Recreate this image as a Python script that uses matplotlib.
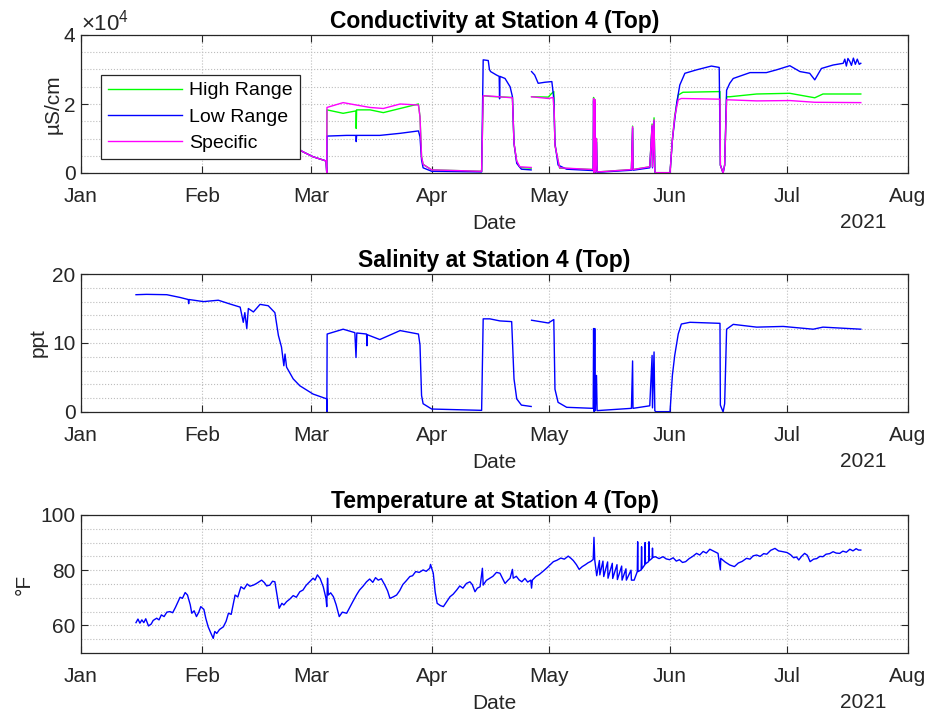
import numpy as np
import pandas as pd
import matplotlib
matplotlib.use("Agg")
import matplotlib.pyplot as plt
import matplotlib.dates as mdates
from matplotlib.ticker import MultipleLocator, FuncFormatter

plt.rcParams['font.family'] = ['Liberation Sans', 'DejaVu Sans']
plt.rcParams['mathtext.fontset'] = 'custom'
plt.rcParams['mathtext.rm'] = 'Liberation Sans'

START = pd.Timestamp('2021-01-01')

# ---- conductivity (uS/cm), days since Jan 1 ----
hi_days = [52.0, 54.4, 56.8, 59.5, 62.8, 63.0, 63.05, 67.2, 70.5, 70.55, 70.65, 74.1, 77.5, 81.8,
           86.5, 86.9, 87.3, 87.7, 89.9, 102.7, 103.1, 104.8, 110.6, 111.0, 111.7, 112.5, 115.4,
           115.45, 115.5, 119.8, 120.5, 121.2, 121.5, 122.7, 131.3, 131.4, 131.55, 131.7, 131.85,
           132.15, 132.3, 141.1, 141.4, 141.5, 145.8, 146.4, 146.5, 146.9, 147.1, 147.3, 151.0,
           151.6, 152.2, 153.1, 154.3, 163.8, 163.9, 164.6, 165.0, 165.5, 166.3, 173.2, 181.7,
           188.1, 190.2, 199.9]
hi_vals = [11.0e3, 8.0e3, 6.2e3, 4.7e3, 3.5e3, 0, 18.3e3, 17.3e3, 18.0e3, 12.9e3, 18.3e3, 18.3e3, 17.5e3, 18.7e3,
           20.0e3, 16.3e3, 4.7e3, 2.5e3, 0.9e3, 0.5e3, 22.4e3, 22.2e3, 21.9e3, 8.6e3, 3.2e3, 1.6e3, 1.4e3,
           np.nan, 22.1e3, 22.0e3, 22.9e3, 23.6e3, 8.0e3, 1.4e3, 1.0e3, 21.9e3, 0.1e3, 21.3e3, 0.3e3,
           10.0e3, 0.3e3, 1.0e3, 13.6e3, 1.0e3, 1.8e3, 14.2e3, 1.8e3, 16.0e3, 0.5e3, 0.1e3, 0.1e3,
           9.6e3, 16.6e3, 22.6e3, 23.4e3, 23.6e3, 2.3e3, 0, 2.3e3, 22.1e3, 22.1e3, 22.9e3, 23.1e3,
           21.8e3, 22.9e3, 22.9e3]

lo_days = [52.0, 54.4, 56.8, 59.5, 62.8, 63.0, 63.05, 68.1, 70.5, 70.55, 70.65, 76.6, 81.8, 86.5,
           86.9, 87.3, 87.7, 89.9, 102.7, 103.1, 104.4, 104.7, 105.0, 106.5, 107.2, 107.3, 107.4,
           108.7, 110.0, 110.6, 111.0, 111.7, 112.9, 115.4, 115.45, 115.5, 116.3, 117.2, 118.9,
           120.7, 121.2, 121.5, 122.3, 124.5, 131.3, 131.4, 131.55, 131.7, 131.85, 132.15, 132.3,
           141.1, 141.4, 141.5, 145.8, 146.4, 146.5, 146.9, 147.1, 147.3, 151.0, 151.6, 152.7,
           153.5, 154.8, 157.8, 161.6, 163.6, 163.9, 164.6, 165.0, 165.5, 166.3, 167.2, 171.5,
           175.7, 178.3, 181.7, 184.3, 186.8, 188.1, 189.8, 192.8, 195.4, 195.8, 196.2, 196.6,
           197.1, 197.5, 198.0, 198.5, 199.0, 199.5, 199.9]
lo_vals = [11.0e3, 8.0e3, 6.2e3, 4.7e3, 3.5e3, 0, 10.7e3, 10.9e3, 10.9e3, 9.1e3, 10.9e3, 10.9e3, 11.5e3, 12.2e3,
           10.5e3, 3.8e3, 1.5e3, 0.5e3, 0.3e3, 32.8e3, 32.6e3, 30.0e3, 29.4e3, 28.4e3, 28.0e3, 21.5e3, 28.0e3,
           27.4e3, 25.0e3, 22.1e3, 8.6e3, 2.8e3, 1.1e3, 0.9e3, np.nan, 29.4e3, 28.4e3, 26.0e3, 26.3e3,
           26.5e3, 21.6e3, 8.6e3, 2.3e3, 1.1e3, 0.7e3, 21.0e3, 0.1e3, 20.5e3, 0.2e3, 9.0e3, 0.2e3,
           0.8e3, 13.0e3, 0.8e3, 1.5e3, 13.5e3, 1.5e3, 15.0e3, 0.3e3, 0.05e3, 0.05e3, 9.6e3, 20.2e3,
           25.5e3, 28.9e3, 29.9e3, 31.0e3, 30.6e3, 2.3e3, 0, 2.3e3, 24.0e3, 26.0e3, 27.4e3, 29.1e3,
           29.1e3, 29.9e3, 31.1e3, 29.4e3, 28.9e3, 27.0e3, 30.3e3, 31.3e3, 31.8e3, 33.0e3, 31.0e3, 33.2e3,
           32.3e3, 31.2e3, 33.3e3, 31.5e3, 33.0e3, 31.5e3, 31.8e3]

sp_days = [52.0, 54.4, 56.8, 59.5, 62.8, 63.0, 63.05, 67.2, 70.6, 74.1, 77.5, 81.8, 86.5, 86.9,
           87.3, 87.7, 89.9, 102.7, 103.1, 104.8, 110.6, 111.0, 111.7, 112.5, 115.4, 115.45, 115.5,
           119.8, 121.0, 121.3, 121.5, 122.7, 131.3, 131.4, 131.55, 131.7, 131.85, 132.15, 132.3,
           141.1, 141.4, 141.5, 145.8, 146.4, 146.5, 146.9, 147.1, 147.3, 151.0, 151.6, 152.2,
           153.1, 153.9, 163.8, 163.9, 164.6, 165.0, 165.5, 166.3, 173.2, 181.7, 188.1, 199.9]
sp_vals = [11.0e3, 8.0e3, 6.2e3, 4.7e3, 3.5e3, 0, 19.0e3, 20.4e3, 19.7e3, 19.0e3, 18.7e3, 20.0e3, 19.7e3, 16.3e3,
           4.7e3, 2.5e3, 0.9e3, 0.5e3, 22.4e3, 22.3e3, 21.8e3, 8.6e3, 3.5e3, 1.8e3, 1.6e3, np.nan, 22.1e3,
           21.6e3, 21.9e3, 18.0e3, 8.0e3, 1.5e3, 1.0e3, 21.6e3, 0.1e3, 21.3e3, 0.3e3, 10.0e3, 0.3e3,
           1.0e3, 13.4e3, 1.0e3, 1.8e3, 13.9e3, 1.8e3, 15.4e3, 0.5e3, 0.1e3, 0.1e3, 9.6e3, 16.3e3,
           21.2e3, 21.6e3, 21.4e3, 2.3e3, 0, 2.3e3, 21.2e3, 21.2e3, 20.9e3, 21.0e3, 20.5e3, 20.4e3]

# ---- salinity (ppt) ----
sal_days = [14.1, 16.8, 22.0, 25.4, 27.5, 27.6, 27.7, 31.4, 35.2, 38.2, 40.8, 41.6, 42.0, 42.5,
            42.9, 44.2, 45.9, 48.0, 49.7, 50.6, 51.4, 52.0, 52.3, 52.7, 54.4, 56.1, 59.5, 63.0,
            63.02, 63.1, 67.2, 70.2, 70.5, 70.7, 73.2, 73.3, 73.4, 76.6, 81.8, 86.5, 86.9, 87.3,
            87.7, 89.9, 102.7, 103.1, 104.8, 107.4, 110.4, 111.0, 111.7, 112.9, 115.4, 115.45,
            115.5, 119.8, 121.2, 121.5, 122.3, 124.5, 131.3, 131.4, 131.55, 131.7, 131.85, 132.15,
            132.3, 141.1, 141.4, 141.5, 145.8, 146.4, 146.5, 146.9, 147.1, 147.3, 151.0, 151.6,
            152.2, 153.1, 153.9, 156.1, 163.8, 163.9, 164.6, 165.0, 165.5, 167.2, 173.2, 180.0,
            187.7, 190.2, 199.9]
sal_vals = [17.0, 17.05, 17.0, 16.6, 16.3, 15.7, 16.3, 16.0, 16.2, 15.65, 15.2, 13.0, 14.4, 12.1,
            15.0, 14.5, 15.6, 15.4, 14.4, 11.1, 9.4, 6.7, 8.4, 6.5, 4.8, 3.8, 2.6, 1.9,
            0.0, 11.3, 12.0, 11.5, 7.9, 11.45, 11.3, 9.6, 11.2, 10.5, 11.8, 11.3, 9.7, 2.4,
            1.2, 0.43, 0.24, 13.5, 13.5, 13.2, 13.1, 4.8, 1.9, 1.0, 0.8, np.nan,
            13.3, 12.9, 13.4, 3.3, 1.4, 0.68, 0.53, 12.1, 0.05, 12.1, 0.2, 5.3,
            0.2, 0.53, 7.4, 0.53, 0.9, 8.2, 0.6, 8.7, 0.2, 0.05, 0.05, 5.3,
            8.2, 11.3, 12.75, 13.0, 12.85, 1.0, 0.0, 1.2, 12.0, 12.7, 12.3, 12.4,
            12.0, 12.3, 12.0]

# ---- temperature (F) ----
tmp_days = [14.1, 14.6, 15.1, 15.6, 16.1, 16.6, 17.3, 18.0, 18.5, 19.4, 20.0, 20.6, 21.3, 22.0,
            22.8, 23.5, 24.2, 25.4, 26.0, 26.7, 27.3, 28.0, 28.4, 29.0, 29.6, 30.2, 30.7, 31.5,
            32.0, 32.6, 33.2, 33.9, 34.3, 34.8, 35.5, 36.5, 37.2, 37.8, 38.5, 39.5, 40.2, 41.0,
            41.8, 42.6, 43.3, 44.2, 45.0, 46.3, 47.0, 47.6, 48.4, 49.1, 49.7, 50.8, 51.5, 52.0,
            52.7, 53.5, 54.4, 55.2, 56.1, 56.9, 57.7, 58.6, 59.5, 60.0, 60.6, 61.3, 62.1, 62.8,
            63.0, 63.2, 63.4, 64.0, 64.7, 65.4, 66.2, 67.0, 68.1, 68.8, 69.6, 70.6, 71.4, 72.3,
            73.2, 74.0, 74.8, 75.5, 76.2, 77.0, 77.9, 78.6, 79.2, 80.0, 80.9, 81.7, 82.5, 83.4,
            84.3, 85.0, 85.8, 86.7, 87.7, 88.5, 89.4, 89.6, 90.3, 90.8, 91.3, 92.1, 92.9, 93.7,
            94.6, 95.4, 96.3, 97.1, 97.9, 98.8, 99.7, 100.3, 101.0, 101.6, 102.3, 102.9, 103.1,
            103.9, 104.8, 105.6, 106.5, 107.4, 108.0, 108.7, 109.4, 110.0, 110.6, 110.8, 111.6,
            112.3, 113.0, 113.8, 114.5, 115.3, 115.5, 115.7, 116.6, 117.5, 118.6, 119.4, 120.3,
            121.1, 122.0, 123.0, 123.9, 124.9, 125.6, 126.2, 127.0, 127.7, 128.5, 129.3, 130.0,
            130.7, 131.3, 131.5, 131.7,
            132.2, 132.9, 133.0, 133.8, 134.0, 135.0, 135.1, 136.2, 136.3, 137.4, 137.5, 138.6,
            138.7, 139.7, 139.8, 141.0, 141.1, 141.8,
            142.6, 142.7, 142.8, 143.6, 143.7, 143.8, 144.5, 144.6, 144.7, 145.5, 145.6, 145.7,
            146.4, 146.5, 146.6, 147.2, 148.2, 149.2, 150.0, 150.9, 151.8, 152.6, 153.4, 154.2,
            155.0, 155.9, 156.8, 157.8, 158.6, 159.5, 160.3, 161.2, 162.2, 163.3, 163.9, 164.0,
            165.1, 166.3, 167.5, 168.5, 169.5, 170.6, 171.5, 172.3, 173.2, 174.1, 175.0, 175.8,
            176.8, 177.9, 178.8, 179.6, 181.0, 181.9, 182.7, 183.4, 184.0, 184.7, 185.5, 186.2,
            186.9, 187.8, 188.6, 189.4, 190.2, 191.0, 191.9, 192.8, 193.6, 194.5, 195.3, 196.2,
            197.1, 197.9, 198.7, 199.3, 199.9]
tmp_vals = [61.0, 62.3, 60.8, 62.0, 61.0, 62.4, 59.8, 60.5, 61.8, 62.6, 62.0, 63.8, 63.2, 64.8,
            65.0, 64.6, 66.5, 70.2, 69.8, 71.9, 71.0, 67.5, 64.4, 65.3, 63.2, 64.8, 66.8, 65.8,
            62.5, 59.5, 57.5, 55.3, 57.8, 57.1, 58.5, 59.5, 61.5, 64.4, 64.0, 71.0, 70.3, 74.0,
            73.2, 75.0, 74.2, 74.6, 75.2, 76.4, 75.5, 74.3, 74.6, 76.0, 75.8, 66.2, 68.0, 67.4,
            68.6, 69.5, 70.8, 70.2, 72.2, 72.8, 74.5, 75.8, 77.1, 76.4, 78.3, 77.0, 74.0, 69.8,
            66.8, 77.1, 71.0, 71.8, 70.4, 67.5, 63.2, 64.8, 64.4, 66.3, 68.4, 71.0, 72.8, 74.2,
            75.8, 76.8, 75.6, 77.3, 76.4, 76.9, 74.6, 72.5, 69.8, 70.3, 71.0, 72.6, 74.8, 76.2,
            77.7, 78.0, 79.5, 79.2, 80.1, 79.6, 80.7, 82.1, 78.9, 72.0, 68.0, 67.2, 66.8, 68.5,
            70.4, 71.3, 72.8, 74.3, 73.5, 75.2, 75.8, 74.8, 72.2, 73.5, 74.0, 80.7, 74.6,
            76.3, 77.1, 77.8, 79.2, 78.9, 77.2, 75.2, 76.3, 77.1, 80.3, 77.1, 77.8,
            76.5, 75.8, 77.0, 75.7, 76.4, 73.5, 76.4, 77.7, 78.5, 79.8, 80.8, 82.0,
            83.1, 83.6, 84.4, 84.0, 85.1, 84.3, 83.5, 82.0, 80.3, 81.3, 82.0, 82.7,
            83.2, 83.9, 91.9, 83.7,
            78.0, 83.5, 78.3, 83.3, 77.7, 83.0, 77.1, 82.5, 77.0, 82.0, 76.6, 81.5,
            76.4, 80.5, 76.4, 80.0, 76.4, 76.4,
            79.5, 90.3, 79.5, 80.1, 88.5, 80.5, 81.9, 90.0, 82.3, 83.1, 90.3, 83.5,
            84.3, 88.0, 84.6, 84.9, 84.2, 84.9, 84.1, 83.8, 84.5, 83.3, 83.8, 82.8,
            83.1, 84.2, 85.0, 86.1, 85.5, 86.8, 86.2, 87.6, 86.9, 86.1, 80.1, 84.3,
            83.0, 81.9, 81.3, 82.6, 83.2, 84.3, 84.0, 85.2, 85.5, 85.0, 86.0, 85.8,
            87.2, 87.9, 87.0, 86.8, 86.4, 85.6, 84.5, 84.8, 83.7, 85.0, 86.1, 85.4,
            83.1, 84.0, 84.2, 85.0, 84.9, 85.8, 86.0, 86.7, 86.2, 86.1, 86.9, 86.5,
            87.6, 87.0, 87.8, 87.3, 87.3]


def to_dates(days):
    return START + pd.to_timedelta(np.asarray(days), unit='D')


W, H = 929, 717
fig = plt.figure(figsize=(W / 100, H / 100), dpi=100)
fig.patch.set_facecolor('white')

left, right = 81, 908
tops = [35, 274, 515]
height = 138
axes = []
for t in tops:
    ax = fig.add_axes([left / W, 1 - (t + height) / H, (right - left) / W, height / H])
    axes.append(ax)

FS = 15
TFS = 16.5
LFS = 14
INK = '#262626'
LW = 1.0


def style(ax, ymin, ymax, major, minor):
    ax.set_xlim(START, pd.Timestamp('2021-08-01'))
    ax.set_ylim(ymin, ymax)
    ax.xaxis.set_major_locator(mdates.MonthLocator())
    ax.xaxis.set_major_formatter(mdates.DateFormatter('%b'))
    ax.yaxis.set_major_locator(MultipleLocator(major))
    ax.yaxis.set_minor_locator(MultipleLocator(minor))
    ax.tick_params(which='major', direction='in', length=5, width=0.8, top=True, right=True,
                   colors=INK, labelsize=FS)
    ax.tick_params(axis='x', pad=10)
    ax.tick_params(axis='y', pad=4)
    ax.tick_params(which='minor', length=0)
    ax.grid(which='major', linestyle=':', color='#bdbdbd', linewidth=0.8)
    ax.grid(which='minor', axis='y', linestyle=':', color='#bdbdbd', linewidth=0.8)
    ax.set_axisbelow(True)
    for s in ax.spines.values():
        s.set_color(INK)
        s.set_linewidth(0.9)
    ax.set_xlabel('Date', fontsize=FS, color=INK, labelpad=6)
    ax.text(0.946, -0.36, '2021', transform=ax.transAxes, ha='center', va='center',
            fontsize=FS, color=INK)


# conductivity
ax = axes[0]
style(ax, 0, 4e4, 2e4, 0.5e4)
ax.plot(to_dates(hi_days), hi_vals, color='#00ff00', lw=LW, label='High Range')
ax.plot(to_dates(lo_days), lo_vals, color='#0000ff', lw=LW, label='Low Range')
ax.plot(to_dates(sp_days), sp_vals, color='#ff00ff', lw=LW, label='Specific')
ax.yaxis.set_major_formatter(FuncFormatter(lambda v, p: f'{v / 1e4:g}'))
ax.text(0.0, 1.0, r'$\times10^{4}$', transform=ax.transAxes, ha='left', va='bottom',
        fontsize=16, color=INK)
ax.set_ylabel('µS/cm', fontsize=FS, color=INK, labelpad=1)
ax.set_title('Conductivity at Station 4 (Top)', fontsize=TFS, fontweight='bold', pad=5)
leg = ax.legend(loc='upper left', bbox_to_anchor=(0.024, 0.71), borderaxespad=0,
                fontsize=LFS, frameon=True, fancybox=False, handlelength=3.8,
                labelspacing=0.45, handletextpad=0.4, borderpad=0.35)
leg.get_frame().set_edgecolor(INK)
leg.get_frame().set_linewidth(0.9)
leg.get_frame().set_alpha(1)

# salinity
ax = axes[1]
style(ax, 0, 20, 10, 2)
ax.plot(to_dates(sal_days), sal_vals, color='#0000ff', lw=LW)
ax.set_ylabel('ppt', fontsize=FS, color=INK, labelpad=3)
ax.set_title('Salinity at Station 4 (Top)', fontsize=TFS, fontweight='bold', pad=5)

# temperature
ax = axes[2]
style(ax, 50, 100, 20, 5)
ax.set_yticks([60, 80, 100])
ax.plot(to_dates(tmp_days), tmp_vals, color='#0000ff', lw=LW)
ax.set_ylabel('°F', fontsize=FS, color=INK, labelpad=5)
ax.set_title('Temperature at Station 4 (Top)', fontsize=TFS, fontweight='bold', pad=5)

fig.savefig('out.png', dpi=100)
